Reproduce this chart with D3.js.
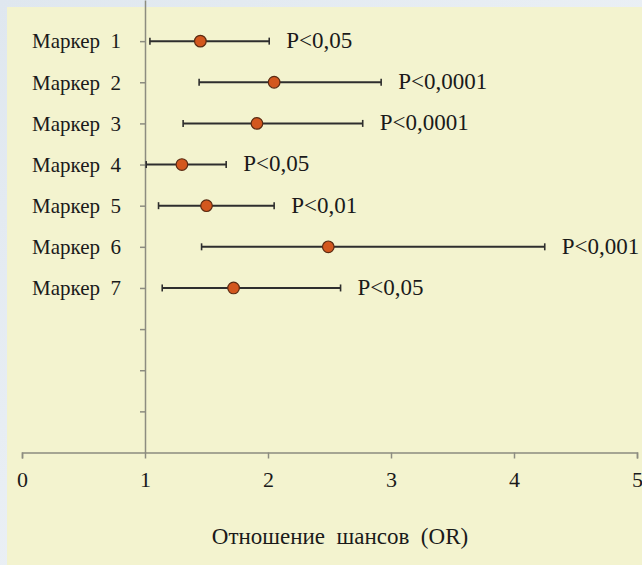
<!DOCTYPE html>
<html>
<head>
<meta charset="utf-8">
<script src="https://cdn.jsdelivr.net/npm/d3@7"></script>
<style>
  body { margin: 0; background: #eef2f6; }
  svg { display: block; }
</style>
</head>
<body>
<div id="chart"></div>
<script>
// Data
const markers = ["Маркер  1", "Маркер  2", "Маркер  3", "Маркер  4", "Маркер  5", "Маркер  6", "Маркер  7"];
const orValues = [1.45, 2.05, 1.91, 1.30, 1.50, 2.49, 1.72];
const ciLow = [1.04, 1.44, 1.31, 1.01, 1.11, 1.46, 1.14];
const ciHigh = [2.01, 2.92, 2.77, 1.66, 2.05, 4.25, 2.59];
const pLabels = ["P<0,05", "P<0,0001", "P<0,0001", "P<0,05", "P<0,01", "P<0,001", "P<0,05"];
const xTicks = [0, 1, 2, 3, 4, 5];
const yTicks = [1, 2, 3, 4, 5, 6, 7, 8, 9, 10];
const xTitle = "Отношение  шансов  (OR)";

const width = 642,
    height = 565,
    fontFamily = "'Liberation Serif', 'Times New Roman', serif";

let svg = d3.select("#chart")
    .append("svg")
    .attr("width", width)
    .attr("height", height);

// outer backdrop + pale yellow panel
let defs = svg.append("defs");
let grad = defs.append("linearGradient")
    .attr("id", "bg")
    .attr("x1", 0).attr("y1", 0).attr("x2", 1).attr("y2", 1);
grad.append("stop").attr("offset", "0%").attr("stop-color", "#dfe7ef");
grad.append("stop").attr("offset", "100%").attr("stop-color", "#f4f7fa");

svg.append("rect")
    .attr("width", width)
    .attr("height", height)
    .attr("fill", "url(#bg)");

svg.append("rect")
    .attr("x", 7)
    .attr("y", 7)
    .attr("width", width - 7)
    .attr("height", height - 7)
    .attr("fill", "#f3f3cf");

let x = d3.scaleLinear().domain([0, 5]).range([22, 637]);
let y = d3.scaleLinear().domain([0, 11]).range([452.5, 0]);

// each marker sits at y = 11 - (index + 1)
const rows = markers.map((m, i) => ({
    label: m,
    or: orValues[i],
    lo: ciLow[i],
    hi: ciHigh[i],
    p: pLabels[i],
    pos: 10 - i
}));

// x axis
let xAxis = svg.append("g")
    .attr("transform", "translate(0," + y(0) + ")")
    .call(d3.axisBottom(x).tickValues(xTicks).tickSize(6).tickPadding(13).tickFormat(d3.format("d")));
xAxis.select(".domain").attr("stroke", "#8c8c80").attr("stroke-width", 1.5);
xAxis.selectAll(".tick line").attr("stroke", "#8c8c80").attr("stroke-width", 1.5);
xAxis.selectAll(".tick text")
    .attr("fill", "#1a1a1a")
    .style("font-family", fontFamily)
    .style("font-size", "22px");

// y axis crosses at OR = 1
let yAxis = svg.append("g")
    .attr("transform", "translate(" + x(1) + ",0)")
    .call(d3.axisLeft(y).tickValues(yTicks).tickSize(5).tickSizeOuter(0).tickFormat(""));
yAxis.select(".domain").attr("stroke", "#8c8c80").attr("stroke-width", 1.5);
yAxis.selectAll(".tick line").attr("stroke", "#8c8c80").attr("stroke-width", 1.5);

// category labels
svg.append("g")
    .selectAll("text")
    .data(rows).enter()
    .append("text")
    .attr("x", 121)
    .attr("y", d => y(d.pos))
    .attr("dy", "0.35em")
    .attr("text-anchor", "end")
    .style("font-family", fontFamily)
    .style("font-size", "21px")
    .attr("fill", "#1a1a1a")
    .style("white-space", "pre")
    .text(d => d.label);

// error bars
let bars = svg.append("g")
    .selectAll("g")
    .data(rows).enter()
    .append("g")
    .attr("transform", d => "translate(0," + y(d.pos) + ")");

bars.append("line")
    .attr("x1", d => x(d.lo))
    .attr("x2", d => x(d.hi))
    .attr("stroke", "#2e2e2e")
    .attr("stroke-width", 2);

bars.append("line")
    .attr("x1", d => x(d.lo))
    .attr("x2", d => x(d.lo))
    .attr("y1", -3.5)
    .attr("y2", 3.5)
    .attr("stroke", "#2e2e2e")
    .attr("stroke-width", 1.6);

bars.append("line")
    .attr("x1", d => x(d.hi))
    .attr("x2", d => x(d.hi))
    .attr("y1", -3.5)
    .attr("y2", 3.5)
    .attr("stroke", "#2e2e2e")
    .attr("stroke-width", 1.6);

bars.append("circle")
    .attr("cx", d => x(d.or))
    .attr("r", 5.8)
    .attr("fill", "#d3571e")
    .attr("stroke", "#5b2a12")
    .attr("stroke-width", 1.2);

// p-value labels
bars.append("text")
    .attr("x", d => x(d.hi) + 17)
    .attr("dy", "0.3em")
    .style("font-family", fontFamily)
    .style("font-size", "23px")
    .attr("fill", "#1a1a1a")
    .text(d => d.p);

// x title
svg.append("text")
    .attr("x", 340)
    .attr("y", 536)
    .attr("dy", "0.35em")
    .attr("text-anchor", "middle")
    .style("font-family", fontFamily)
    .style("font-size", "23px")
    .attr("fill", "#1a1a1a")
    .style("white-space", "pre")
    .text(xTitle);
</script>
</body>
</html>
